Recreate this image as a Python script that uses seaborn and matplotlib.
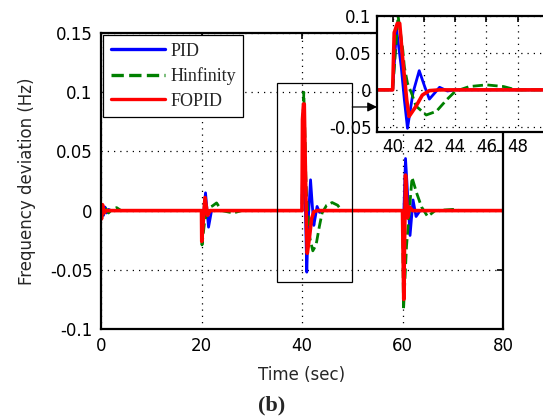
import matplotlib
matplotlib.use("Agg")
import matplotlib.pyplot as plt
import seaborn as sns
import pandas as pd
from matplotlib.patches import Rectangle
from matplotlib.lines import Line2D

# ---- data ----
time_pid = [0, 0.2, 0.5, 0.8, 1.1, 1.5, 2.0,
            20.0, 20.2, 20.8, 21.4, 22.0,
            40.0, 40.25, 40.55, 40.75, 40.95, 41.3, 41.7, 42.05, 42.35, 42.7, 43.0, 43.5, 44.0,
            60.0, 60.2, 60.6, 61.5, 62.1, 62.7, 63.5, 80]
pid = [0, 0.004, -0.004, 0.003, -0.002, 0.001, 0,
       0, -0.012, 0.015, -0.014, 0,
       0, 0.082, 0.031, -0.0135, -0.052, -0.004, 0.026, 0.0045, -0.0125, -0.004, 0.0035, -0.0015, 0,
       0, -0.010, 0.044, -0.021, 0.009, -0.005, 0, 0]

time_hinf = [0, 0.3, 0.8, 1.5, 2.2, 3.1, 4.0,
             20.0, 20.1, 20.6, 21.3, 22.2, 23.0, 24.0, 26.3, 28.0,
             40.0, 40.35, 40.45, 40.65, 40.75, 40.95, 41.2, 41.5, 42.15, 42.8, 43.45, 44.0, 44.9, 46.0, 47.1, 47.9,
             60.0, 60.2, 60.8, 61.9, 62.8, 63.8, 65.0, 66.5, 70.0, 71.5, 80]
hinf = [0, -0.004, 0.003, -0.002, 0.001, 0.0025, 0,
        0, -0.029, -0.010, 0.002, 0.004, 0.0065, 0, -0.002, 0,
        0, 0.1, 0.085, 0.054, 0.031, 0.009, -0.004, -0.022, -0.034, -0.029, -0.0135, -0.002, 0.0045, 0.0068, 0.0045, 0,
        0, -0.084, -0.03, 0.028, 0.015, 0.003, -0.005, 0, 0.001, 0, 0]

time_fopid = [0, 0.1, 0.3, 0.6, 1.0,
              20.0, 20.05, 20.7, 21.2, 21.7,
              40.0, 40.1, 40.3, 40.45, 40.65, 40.9, 41.05, 41.5, 41.9, 42.35, 43.0,
              60.0, 60.1, 60.25, 60.6, 61.0, 61.4, 62.0, 80]
fopid = [0, -0.007, 0.005, -0.002, 0,
         0, -0.026, 0.011, -0.004, 0,
         0, 0.077, 0.09, 0.09, 0.04, -0.0135, -0.036, -0.022, -0.007, -0.001, 0,
         0, -0.033, -0.075, 0.030, -0.006, 0.003, 0, 0]

series_names = ["PID", "Hinfinity", "FOPID"]
x_ticks = [0, 20, 40, 60, 80]
y_ticks = [-0.1, -0.05, 0, 0.05, 0.1, 0.15]
y_ticklabels = ["-0.1", "-0.05", "0", "0.05", "0.1", "0.15"]
inset_x_ticks = [40, 42, 44, 46, 48]
inset_y_ticks = [-0.05, 0, 0.05, 0.1]
inset_y_ticklabels = ["-0.05", "0", "0.05", "0.1"]
zoom_box = (35, 50, -0.06, 0.108)  # x0, x1, y0, y1

sns.set_style("white")
plt.rcParams["font.family"] = ["DejaVu Sans"]

styles = {
    "PID": dict(color=(0, 0, 1), lw=2.0, ls="-"),
    "Hinfinity": dict(color=(0, 0.5, 0), lw=2.0, ls="--"),
    "FOPID": dict(color=(1, 0, 0), lw=2.6, ls="-"),
}
frames = {
    "PID": pd.DataFrame({"t": time_pid, "v": pid}),
    "Hinfinity": pd.DataFrame({"t": time_hinf, "v": hinf}),
    "FOPID": pd.DataFrame({"t": time_fopid, "v": fopid}),
}

W, H = 543, 420
fig = plt.figure(figsize=(W / 100, H / 100), dpi=100)
ax = fig.add_axes([101 / W, 1 - 329 / H, 402 / W, 296 / H])


def draw(a, lwscale=1.0):
    for name in series_names:
        st = styles[name]
        sns.lineplot(data=frames[name], x="t", y="v", ax=a, color=st["color"],
                     linewidth=st["lw"] * lwscale, linestyle=st["ls"],
                     estimator=None, sort=False, legend=False)


def style_axes(a, fs=12):
    a.set_xlabel("")
    a.set_ylabel("")
    for s in a.spines.values():
        s.set_visible(True)
        s.set_color("black")
        s.set_linewidth(1.6)
    a.tick_params(direction="in", length=4, width=1.2, top=True, right=True,
                  labelsize=fs, colors="black", pad=6)
    a.grid(True, color="black", linestyle=(0, (1, 4)), linewidth=0.9)


draw(ax)
ax.set_xlim(0, 80)
ax.set_ylim(-0.1, 0.15)
ax.set_xticks(x_ticks)
ax.set_yticks(y_ticks)
ax.set_yticklabels(y_ticklabels)
style_axes(ax)
ax.set_xlabel("Time (sec)", fontsize=12, labelpad=8)
ax.set_ylabel("Frequency deviation (Hz)", fontsize=12, labelpad=10)

# zoom rectangle
x0, x1, y0, y1 = zoom_box
ax.add_patch(Rectangle((x0, y0), x1 - x0, y1 - y0, fill=False, edgecolor="black",
                       linewidth=0.9, zorder=5))

# legend
handles = [Line2D([0], [0], color=styles[n]["color"], lw=2.4,
                  ls=styles[n]["ls"]) for n in series_names]
leg = ax.legend(handles, series_names, loc="upper left", bbox_to_anchor=(0.006, 0.992),
                borderaxespad=0, prop={"family": "Liberation Serif", "size": 13},
                handlelength=3.0, handletextpad=0.3, labelspacing=0.42,
                borderpad=0.4, fancybox=False, framealpha=1)
leg.get_frame().set_edgecolor("black")
leg.get_frame().set_linewidth(0.9)

# inset
axins = fig.add_axes([377 / W, 1 - 132 / H, 172 / W, 116 / H])
axins.set_facecolor("white")
draw(axins, 1.0)
axins.set_xlim(39, 50)
axins.set_ylim(-0.057, 0.1)
axins.set_xticks(inset_x_ticks)
axins.set_yticks(inset_y_ticks)
axins.set_yticklabels(inset_y_ticklabels)
style_axes(axins)
axins.tick_params(pad=4)

# arrow from the zoom box to the inset
ax.annotate("", xy=(0, 0.216), xycoords=axins.transAxes,
            xytext=(x1, 0.0875), textcoords="data",
            arrowprops=dict(arrowstyle="-|>", color="black", lw=0.9,
                            mutation_scale=14, shrinkA=0, shrinkB=0),
            annotation_clip=False, zorder=6)

fig.text(272 / W, 1 - 405 / H, "(b)", ha="center", va="center",
         fontsize=16, fontweight="bold", family="Liberation Serif")

fig.savefig("out.png", dpi=100)
